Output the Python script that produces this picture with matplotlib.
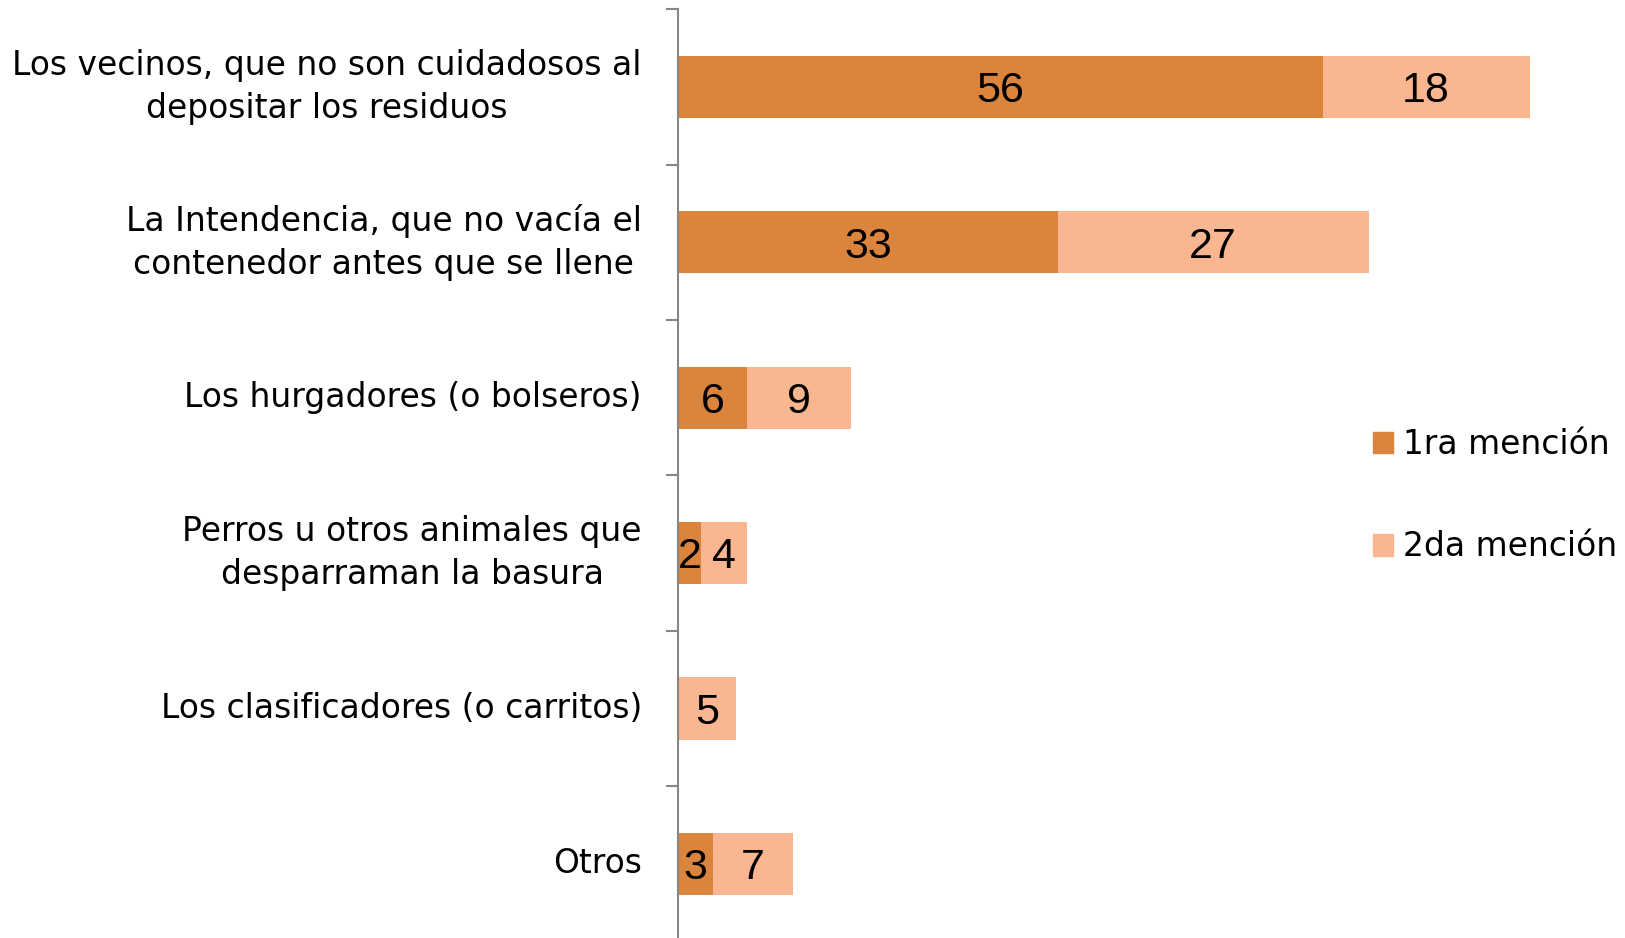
import matplotlib.pyplot as plt
from matplotlib.patches import Patch

categories = [
    "Los vecinos, que no son cuidadosos al\ndepositar los residuos",
    "La Intendencia, que no vacía el\ncontenedor antes que se llene",
    "Los hurgadores (o bolseros)",
    "Perros u otros animales que\ndesparraman la basura",
    "Los clasificadores (o carritos)",
    "Otros",
]
primera = [56, 33, 6, 2, 0, 3]
segunda = [18, 27, 9, 4, 5, 7]
series_names = ["1ra mención", "2da mención"]

c1 = "#DB843D"
c2 = "#F9B691"
axis_col = "#868686"
label_font = "DejaVu Sans"
num_font = "Liberation Sans"

fig = plt.figure(figsize=(16.25, 9.38), dpi=100)
ax = fig.add_axes([678 / 1625, -0.0039, 0.5808, 0.994])

y = list(range(len(categories)))
ax.barh(y, primera, height=0.4, color=c1)
ax.barh(y, segunda, left=primera, height=0.4, color=c2)

# value labels, centred in each segment
for vals, lefts in [(primera, [0] * len(y)), (segunda, primera)]:
    for yi, v, l in zip(y, vals, lefts):
        if v == 0:
            continue
        ax.annotate(str(v), (l + v / 2, yi), xytext=(0, -11),
                    textcoords="offset points", ha="center", va="baseline",
                    fontsize=31, family=num_font, color="black")

ax.set_xlim(0, 82)
ax.set_ylim(len(categories) - 0.5, -0.5)

ax.set_yticks(y)
ax.set_yticklabels(categories, fontsize=23.7, family=label_font)
for t in ax.get_yticklabels():
    t.set_multialignment("center")
    t.set_verticalalignment("center")
    t.set_linespacing(1.4)
ax.tick_params(axis="y", which="major", length=0, pad=26)
ax.set_yticks([i - 0.5 for i in range(len(categories) + 1)], minor=True)
ax.tick_params(axis="y", which="minor", length=9, width=1.5, color=axis_col)
ax.set_xticks([])

for s in ["top", "right", "bottom"]:
    ax.spines[s].set_visible(False)
ax.spines["left"].set_color(axis_col)
ax.spines["left"].set_linewidth(1.5)

handles = [Patch(color=c1), Patch(color=c2)]
fig.legend(handles, series_names, loc="center left",
           bbox_to_anchor=(1372.7 / 1625, 1 - 495.9 / 938),
           frameon=False, borderpad=0, borderaxespad=0,
           handlelength=0.62, handleheight=0.62, handletextpad=0.3,
           labelspacing=2.1, prop={"family": label_font, "size": 23.7})

fig.savefig("out.png", dpi=100)
